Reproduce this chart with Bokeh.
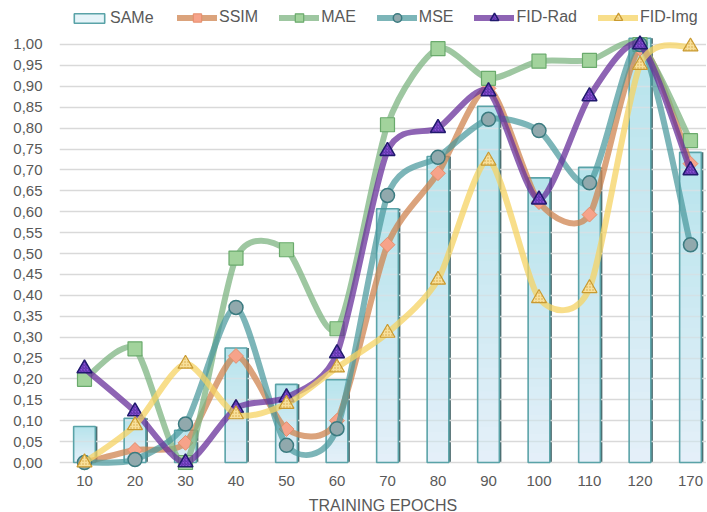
import numpy as np
from bokeh.plotting import figure
from bokeh.models import ColumnDataSource, Range1d, Legend, LegendItem
from bokeh.embed import file_html
from bokeh.resources import INLINE

# ---------------- data ----------------
epochs = ["10", "20", "30", "40", "50", "60", "70", "80", "90", "100", "110", "120", "170"]
same = [0.086, 0.106, 0.077, 0.274, 0.187, 0.198, 0.607, 0.732, 0.852, 0.681, 0.706, 1.015, 0.742]
ssim = [0.0, 0.03, 0.047, 0.255, 0.08, 0.10, 0.521, 0.692, 0.895, 0.623, 0.593, 0.99, 0.715]
mae = [0.199, 0.272, 0.0, 0.489, 0.509, 0.32, 0.808, 0.99, 0.919, 0.96, 0.962, 1.0, 0.77]
mse = [0.0, 0.007, 0.092, 0.371, 0.041, 0.081, 0.639, 0.730, 0.821, 0.794, 0.669, 1.0, 0.521]
fid_rad = [0.225, 0.122, 0.0, 0.13, 0.156, 0.261, 0.745, 0.80, 0.888, 0.629, 0.876, 1.0, 0.699]
fid_img = [0.0, 0.089, 0.236, 0.115, 0.14, 0.227, 0.31, 0.437, 0.722, 0.393, 0.417, 0.951, 0.995]
ytick_values = [0.0, 0.05, 0.1, 0.15, 0.2, 0.25, 0.3, 0.35, 0.4, 0.45, 0.5,
                0.55, 0.6, 0.65, 0.7, 0.75, 0.8, 0.85, 0.9, 0.95, 1.0]
ytick_labels = ["0,00", "0,05", "0,10", "0,15", "0,20", "0,25", "0,30", "0,35", "0,40", "0,45", "0,50",
                "0,55", "0,60", "0,65", "0,70", "0,75", "0,80", "0,85", "0,90", "0,95", "1,00"]
x_label = "TRAINING EPOCHS"

TEXT = "#595959"
FONT = "Liberation Sans"

idx = list(range(len(epochs)))

p = figure(frame_width=647, frame_height=472,
           x_range=Range1d(-0.495, 12.317), y_range=Range1d(-0.0239, 1.10526),
           output_backend="svg", toolbar_location=None,
           min_border_left=59, min_border_right=0, min_border_top=0, min_border_bottom=0)
p.outline_line_color = None
p.background_fill_color = "white"
p.border_fill_color = "white"

# axes
p.xgrid.visible = False
p.ygrid.grid_line_color = "#d9d9d9"
p.ygrid.grid_line_width = 1.3
p.yaxis.ticker = ytick_values
p.yaxis.major_label_overrides = dict(zip(ytick_values, ytick_labels))
p.xaxis.ticker = idx
p.xaxis.major_label_overrides = dict(zip(idx, epochs))
for ax in (p.xaxis, p.yaxis):
    ax.axis_line_color = None
    ax.major_tick_line_color = None
    ax.minor_tick_line_color = None
    ax.major_label_text_font_size = "15px"
    ax.major_label_text_color = TEXT
    ax.major_label_text_font = FONT
p.yaxis.major_label_standoff = 11
p.xaxis.major_label_standoff = -3
p.xaxis.axis_label = x_label
p.xaxis.axis_label_text_font_size = "16px"
p.xaxis.axis_label_text_font_style = "normal"
p.xaxis.axis_label_text_color = TEXT
p.xaxis.axis_label_text_font = FONT
p.xaxis.axis_label_standoff = 8

# ---------------- bars (SAMe) with vertical gradient ----------------
BW = 0.43
shadow_src = ColumnDataSource(dict(x=[i + 0.04 for i in idx], top=same))
p.vbar(x="x", top="top", width=BW, bottom=0, source=shadow_src,
       fill_color="#36585b", fill_alpha=0.9, line_color=None, level="image")

# gradient under the grid; a translucent layer above lets gridlines show faintly
top_rgb = np.array([160, 222, 228])
bot_rgb = np.array([253, 246, 255])
N = 30
gx, gt, gc = [], [], []
for j in range(N):
    frac = (N - j) / N
    rgb = bot_rgb + (top_rgb - bot_rgb) * frac
    col = "#%02x%02x%02x" % tuple(int(round(c)) for c in rgb)
    for i, v in zip(idx, same):
        gx.append(i)
        gt.append(v * frac)
        gc.append(col)
grad_src = ColumnDataSource(dict(x=gx, top=gt, color=gc))
p.vbar(x="x", top="top", width=BW, bottom=0, source=grad_src,
       fill_color="color", line_color=None, level="image")

bar_src = ColumnDataSource(dict(x=idx, top=same))
bar_r = p.vbar(x="x", top="top", width=BW, bottom=0, source=bar_src,
               fill_color="#cdeaf3", fill_alpha=0.5, line_color="#5aa3a8", line_width=1.6)


# ---------------- smooth lines ----------------
def bezier_source(vals, k=1.0 / 8):
    y = np.asarray(vals, dtype=float)
    x = np.asarray(idx, dtype=float)
    xp = np.r_[x[0], x[:-1]]
    xn = np.r_[x[1:], x[-1]]
    yp = np.r_[y[0], y[:-1]]
    yn = np.r_[y[1:], y[-1]]
    tx = xn - xp
    ty = yn - yp
    return ColumnDataSource(dict(
        x0=x[:-1], y0=y[:-1], x1=x[1:], y1=y[1:],
        cx0=x[:-1] + k * tx[:-1], cy0=y[:-1] + k * ty[:-1],
        cx1=x[1:] - k * tx[1:], cy1=y[1:] - k * ty[1:],
    ))


series = [
    ("SSIM", ssim, "#cf8450", 0.75, dict(marker="square", angle=np.pi / 4, size=10.5,
                                          fill_color="#f6a38a", line_color="#e58d6b", line_width=1)),
    ("MAE", mae, "#7db482", 0.75, dict(marker="square", size=14,
                                        fill_color="#a2d39c", line_color="#6aaa6c", line_width=1.2)),
    ("MSE", mse, "#4a989d", 0.72, dict(marker="circle", size=14,
                                        fill_color="#91a9ad", line_color="#3b7b80", line_width=1.5)),
    ("FID-Rad", fid_rad, "#68309b", 0.75, dict(marker="triangle", size=15,
                                                fill_color="#8a4fd6", line_color="#211a6e", line_width=1.5,
                                                hatch_pattern="right_diagonal_line", hatch_color="#4a2a95",
                                                hatch_scale=3, hatch_weight=0.8)),
    ("FID-Img", fid_img, "#f5d363", 0.75, dict(marker="triangle", size=15,
                                                fill_color="#f8e09a", line_color="#c99a30", line_width=1.2,
                                                hatch_pattern="dot", hatch_color="#d3a443",
                                                hatch_scale=3, hatch_weight=0.8)),
]

items = []
for name, vals, color, alpha, mk in series:
    rl = p.bezier(x0="x0", y0="y0", x1="x1", y1="y1", cx0="cx0", cy0="cy0",
                  cx1="cx1", cy1="cy1", source=bezier_source(vals),
                  line_color=color, line_width=6, line_alpha=alpha, line_cap="round")
    rm = p.scatter(x=idx, y=vals, **mk)
    items.append(LegendItem(label=name, renderers=[rl, rm]))

common = dict(orientation="horizontal", padding=0, margin=0, border_line_color=None,
              background_fill_alpha=0, label_text_font_size="16px", label_text_color=TEXT,
              label_text_font=FONT, label_standoff=2)

leg1 = Legend(items=[LegendItem(label="SAMe", renderers=[bar_r])],
              location=(11, 445), glyph_width=38, glyph_height=12, label_height=12,
              spacing=0, **common)
leg2 = Legend(items=items, location=(118, 444.5), glyph_width=40, glyph_height=21,
              spacing=21, **common)
p.add_layout(leg1)
p.add_layout(leg2)

open("out.html", "w").write(file_html(p, INLINE))
